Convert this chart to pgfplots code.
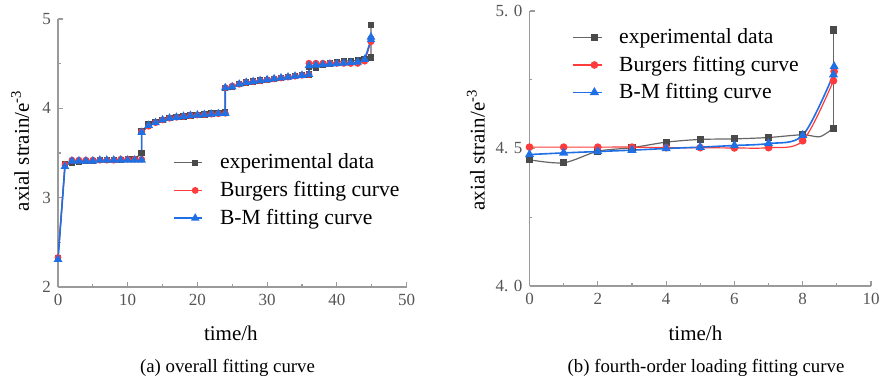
\documentclass[border=0pt]{standalone}
\usepackage{fontspec}
\setmainfont{Liberation Serif}
\usepackage{pgfplots}
\pgfplotsset{compat=1.18}
\definecolor{cexp}{HTML}{4A4A4A}
\definecolor{cbur}{HTML}{FF3B3B}
\definecolor{cbm}{HTML}{1F6FE5}
\definecolor{caxis}{HTML}{9A9A9A}
\definecolor{ctick}{HTML}{555555}
\pgfplotsset{
  myaxis/.style={
    scale only axis,
    axis lines*=left,
    axis line style={caxis, line width=0.8pt},
    tick style={caxis, line width=0.6pt},
    tick align=inside,
    major tick length=2.6pt,
    minor tick length=1.3pt,
    minor tick num=1,
    tick label style={font=\fontsize{8.5}{10}\selectfont, text=ctick},
    /pgf/number format/assume math mode=true,
    label style={font=\fontsize{10.5}{12}\selectfont},
    legend cell align=left,
    legend image code/.code={\draw[mark repeat=2,mark phase=2] plot coordinates {(0pt,0pt)(10.5pt,0pt)(14pt,0pt)};},
    legend style={draw=none, fill=none, font=\fontsize{10.8}{13}\selectfont, inner sep=0pt,
      column sep=7pt, nodes={inner sep=1.5pt}},
  },
  expst/.style={color=cexp!85!white, line width=0.6pt, mark=square*, mark size=1.3pt, mark options={fill=cexp, draw=cexp}},
  burst/.style={color=cbur, line width=0.6pt, mark=*, mark size=1.4pt, mark options={fill=cbur, draw=cbur}},
  bmst/.style={color=cbm, line width=0.8pt, mark=triangle*, mark size=1.7pt, mark options={fill=cbm, draw=cbm}},
}
\begin{document}
\begin{tikzpicture}
\useasboundingbox (0pt,0pt) rectangle (443pt,190pt);
% ---------------- left panel
\begin{axis}[myaxis,
  at={(29pt,46.5pt)}, anchor=south west,
  width=174.25pt, height=134pt,
  xmin=0, xmax=50, ymin=2, ymax=5,
  xtick={0,10,20,30,40,50}, ytick={2,3,4,5},
  xlabel={time/h}, ylabel={axial strain/e\textsuperscript{-3}},
  xlabel style={at={(axis description cs:0.496,-0.171)}, anchor=center},
  ylabel style={at={(axis description cs:-0.109,0.509)}, anchor=center},
  legend style={at={(axis description cs:0.33,0.51)}, anchor=north west, row sep=1.8pt},
]
\addplot[expst] coordinates {(0,2.32)(1,3.37)(2,3.39)(3,3.40)(4,3.41)(5,3.41)(6,3.42)(7,3.42)(8,3.42)(9,3.42)(10,3.43)(11,3.43)(12,3.50)(12,3.74)(13,3.82)(14,3.85)(15,3.87)(16,3.89)(17,3.90)(18,3.91)(19,3.92)(20,3.925)(21,3.93)(22,3.94)(23,3.95)(24,3.96)(24,4.23)(25,4.24)(26,4.27)(27,4.29)(28,4.30)(29,4.31)(30,4.32)(31,4.33)(32,4.34)(33,4.35)(34,4.36)(35,4.37)(36,4.38)(36,4.46)(37,4.45)(38,4.49)(39,4.50)(40,4.52)(41,4.53)(42,4.53)(43,4.54)(44,4.55)(44.9,4.57)(44.9,4.93)};
\addlegendentry{experimental data}
\addplot[burst] coordinates {(0,2.33)(1,3.37)(2,3.42)(3,3.42)(4,3.42)(5,3.42)(6,3.42)(7,3.42)(8,3.42)(9,3.43)(10,3.43)(11,3.43)(12,3.43)(12,3.74)(13,3.80)(14,3.84)(15,3.87)(16,3.89)(17,3.90)(18,3.91)(19,3.92)(20,3.925)(21,3.93)(22,3.935)(23,3.94)(24,3.945)(24,4.23)(25,4.25)(26,4.27)(27,4.29)(28,4.30)(29,4.31)(30,4.32)(31,4.33)(32,4.34)(33,4.35)(34,4.36)(35,4.37)(36,4.38)(36,4.505)(37,4.505)(38,4.505)(39,4.505)(40,4.503)(41,4.503)(42,4.502)(43,4.503)(44,4.528)(44.9,4.746)(44.9,4.78)};
\addlegendentry{Burgers fitting curve}
\addplot[bmst] coordinates {(0,2.31)(1,3.35)(2,3.41)(3,3.41)(4,3.41)(5,3.41)(6,3.42)(7,3.42)(8,3.42)(9,3.42)(10,3.42)(11,3.42)(12,3.42)(12,3.73)(13,3.81)(14,3.84)(15,3.87)(16,3.89)(17,3.90)(18,3.91)(19,3.92)(20,3.925)(21,3.93)(22,3.935)(23,3.94)(24,3.945)(24,4.23)(25,4.24)(26,4.27)(27,4.29)(28,4.30)(29,4.31)(30,4.32)(31,4.33)(32,4.34)(33,4.35)(34,4.36)(35,4.37)(36,4.38)(36,4.478)(37,4.484)(38,4.489)(39,4.494)(40,4.500)(41,4.505)(42,4.511)(43,4.518)(44,4.548)(44.9,4.768)(44.9,4.798)};
\addlegendentry{B-M fitting curve}
\end{axis}
\node[font=\fontsize{9.4}{11}\selectfont] at (113.75pt,6pt) {(a) overall fitting curve};
% ---------------- right panel
\begin{axis}[myaxis,
  at={(264.75pt,47pt)}, anchor=south west,
  width=170.75pt, height=137.5pt,
  xmin=0, xmax=10, ymin=4, ymax=5,
  xtick={0,2,4,6,8,10}, ytick={4,4.5,5},
  yticklabels={4. 0,4. 5,5. 0},
  xlabel={time/h}, ylabel={axial strain/e\textsuperscript{-3}},
  xlabel style={at={(axis description cs:0.486,-0.171)}, anchor=center},
  ylabel style={at={(axis description cs:-0.157,0.495)}, anchor=center},
  legend style={at={(axis description cs:0.125,0.948)}, anchor=north west, row sep=1.6pt},
]
\addplot[expst, mark size=1.5pt, smooth, tension=0.5, mark indices={1,2,3,4,5,6,7,8,9,11},
  legend image post style={mark indices={2}}] coordinates {(0,4.459)(1,4.448)(2,4.49)(3,4.503)(4,4.523)(5,4.533)(6,4.535)(7,4.540)(8,4.550)(8.5,4.543)(8.9,4.574)};
\addlegendentry{experimental data}
\addplot[burst, mark size=1.6pt, smooth, tension=0.5] coordinates {(0,4.505)(1,4.505)(2,4.505)(3,4.505)(4,4.503)(5,4.503)(6,4.502)(7,4.503)(8,4.528)(8.9,4.746)(8.92,4.78)};
\addlegendentry{Burgers fitting curve}
\addplot[bmst, mark size=1.9pt, smooth, tension=0.5] coordinates {(0,4.478)(1,4.484)(2,4.489)(3,4.494)(4,4.500)(5,4.505)(6,4.511)(7,4.518)(8,4.548)(8.9,4.768)(8.92,4.798)};
\addlegendentry{B-M fitting curve}
\addplot[expst, mark size=1.5pt, forget plot] coordinates {(8.9,4.574)(8.9,4.931)};
\end{axis}
\node[font=\fontsize{9.4}{11}\selectfont] at (353pt,6pt) {(b) fourth-order loading fitting curve};
\end{tikzpicture}
\end{document}
